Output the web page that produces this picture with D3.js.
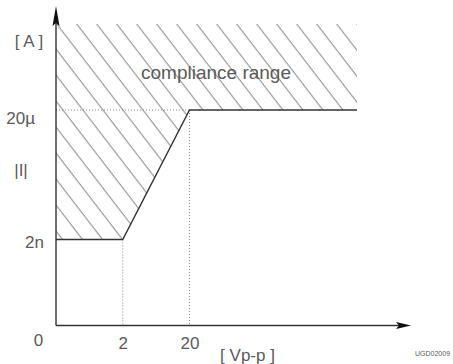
<!DOCTYPE html>
<html>
<head>
<meta charset="utf-8">
<script src="https://cdn.jsdelivr.net/npm/d3@7"></script>
<style>
  body { margin: 0; background: #fff; }
  text { font-family: "Liberation Sans", Arial, sans-serif; fill: #5a5a5a; }
</style>
</head>
<body>
<svg width="453" height="364"></svg>
<script>
// compliance limit: |I| against Vp-p (schematic, log-like axes)
const voltTicks = [2, 20];
const voltLabels = ["2", "20"];
const currTicks = [2e-9, 2e-5];
const currLabels = ["2n", "20\u00b5"];
const limitVolt = [0, 2, 20];
const limitCurr = [2e-9, 2e-9, 2e-5];

let svg = d3.select('svg');
let ink = '#333';
// frame of the drawing
let fLeft = 56, fBottom = 325.5, fTop = 24, fRight = 357;
let axisTop = 6, axisRight = 411;

// symlog with c=0.25 puts 0, 2, 20 equally apart, like the sketch
let x = d3.scaleSymlog().constant(0.25)
  .domain([0, 20])
  .range([fLeft, 189.5]);
let y = d3.scaleLog()
  .domain([2e-9, 2e-5])
  .range([239.5, 110]);

let limit = limitVolt.map((v, i) => [x(v), y(limitCurr[i])]);
limit.push([fRight, y(limitCurr[limitCurr.length - 1])]);

// hatch pattern, lines falling to the right
let defs = svg.append('defs');
let pat = defs.append('pattern')
  .attr('id', 'hatch')
  .attr('patternUnits', 'userSpaceOnUse')
  .attr('width', 20).attr('height', 26)
  .attr('x', 236.7).attr('y', fTop);
pat.append('path')
  .attr('d', 'M-1,-1.3L21,27.3M-21,-1.3L1,27.3M19,-1.3L41,27.3')
  .attr('stroke', '#444')
  .attr('stroke-width', 0.8)
  .attr('fill', 'none');

let area = [[fLeft, fTop], [fRight, fTop]].concat(limit.slice().reverse());
svg.append('path')
  .attr('d', d3.line()(area) + 'Z')
  .attr('fill', 'url(#hatch)');

// dotted guides
let guides = [
  [[fLeft, y(2e-5)], [x(20), y(2e-5)]],
  [[x(2), y(2e-9)], [x(2), fBottom]],
  [[x(20), y(2e-5)], [x(20), fBottom]]
];
svg.append('g')
  .selectAll('path')
  .data(guides)
  .join('path')
  .attr('d', d => d3.line()(d))
  .attr('stroke', '#888')
  .attr('stroke-width', 1)
  .attr('stroke-dasharray', '1,2')
  .attr('fill', 'none');

// limit line
svg.append('path')
  .attr('d', d3.line()(limit))
  .attr('stroke', ink)
  .attr('stroke-width', 1.4)
  .attr('fill', 'none');

// axes with arrow heads
svg.append('path')
  .attr('d', `M${fLeft},${fBottom}V${axisTop + 14}M${fLeft},${fBottom}H${axisRight - 12}`)
  .attr('stroke', ink)
  .attr('stroke-width', 1.4);
svg.append('path')
  .attr('d', `M${fLeft},${axisTop}L${fLeft + 3.5},${axisTop + 20}L${fLeft},${axisTop + 17}L${fLeft - 3.5},${axisTop + 20}Z`)
  .attr('fill', '#111');
svg.append('path')
  .attr('d', `M${axisRight},${fBottom}L${axisRight - 15},${fBottom + 3.5}L${axisRight - 12},${fBottom}L${axisRight - 15},${fBottom - 3.5}Z`)
  .attr('fill', '#111');

// tick labels (no tick marks, like the sketch)
let yAxis = svg.append('g')
  .attr('transform', `translate(${fLeft},0)`)
  .call(d3.axisLeft(y).tickValues(currTicks).tickSize(0).tickPadding(12)
    .tickFormat((d, i) => currLabels[i]));
yAxis.select('.domain').remove();
yAxis.selectAll('text')
  .attr('dy', (d, i) => i === 0 ? 8 : 13)
  .attr('dx', (d, i) => i === 0 ? 0 : -9)
  .style('font-size', '17px')
  .style('font-family', null);

let xAxis = svg.append('g')
  .attr('transform', `translate(0,${fBottom})`)
  .call(d3.axisBottom(x).tickValues(voltTicks).tickSize(0).tickPadding(11)
    .tickFormat((d, i) => voltLabels[i]));
xAxis.select('.domain').remove();
xAxis.selectAll('text')
  .style('font-size', '17px')
  .style('font-family', null);

let labels = [
  { t: '0', x: 38.5, y: 346, a: 'middle', s: 17 },
  { t: '[ A ]', x: 29, y: 47, a: 'middle', s: 17 },
  { t: '|I|', x: 21, y: 176, a: 'middle', s: 17 },
  { t: '[ Vp-p ]', x: 247.5, y: 361, a: 'middle', s: 17 },
  { t: 'compliance range', x: 216, y: 79, a: 'middle', s: 19 },
  { t: 'UGD02009', x: 415, y: 356, a: 'start', s: 7 }
];
svg.append('g')
  .selectAll('text')
  .data(labels)
  .join('text')
  .attr('x', d => d.x)
  .attr('y', d => d.y)
  .attr('text-anchor', d => d.a)
  .style('font-size', d => d.s + 'px')
  .text(d => d.t);
</script>
</body>
</html>
